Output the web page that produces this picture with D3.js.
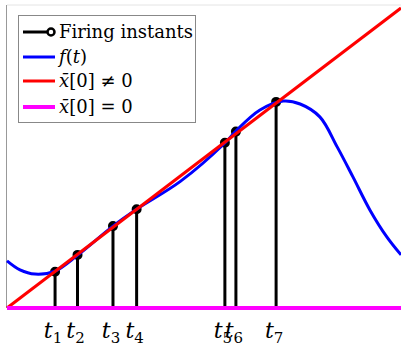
<!DOCTYPE html>
<html>
<head>
<meta charset="utf-8">
<script src="https://cdn.jsdelivr.net/npm/d3@7"></script>
<style>
  body { margin: 0; background: #fff; }
  svg { display: block; font-family: 'DejaVu Serif', 'Liberation Serif', serif; }
</style>
</head>
<body>
<div id="chart"></div>
<script>
// sampled f(t)
const fT = [0, 0.33, 0.71, 1.22, 1.8, 2.69, 3.3, 4.4, 5.53, 5.81, 6.42, 7.01, 7.44, 7.94, 8.38, 8.78, 9.21, 9.64, 10]
const fY = [1.57, 1.27, 1.13, 1.23, 1.77, 2.73, 3.3, 4.22, 5.5, 5.9, 6.6, 6.9, 6.8, 6.37, 5.37, 4.37, 3.27, 2.37, 1.77]
// firing instants
const fireT = [1.22, 1.79, 2.69, 3.29, 5.53, 5.81, 6.83]
const fireY = [1.21, 1.77, 2.73, 3.29, 5.51, 5.88, 6.87]
const fireLabels = ['1', '2', '3', '4', '5', '6', '7']
// red line x[0] != 0 (endpoints)
const redT = [0, 10]
const redY = [0, 10]

const w = 401, h = 347
const margin = { left: 7, right: 0, top: 5, bottom: 39 }

const svg = d3.select('#chart').append('svg')
  .attr('width', w).attr('height', h)

const x = d3.scaleLinear().domain([0, 10]).range([margin.left, w - margin.right])
const y = d3.scaleLinear().domain([0, 10.1]).range([h - margin.bottom, margin.top])

// frame
svg.append('line')
  .attr('x1', x(0)).attr('x2', w).attr('y1', y(10.1)).attr('y2', y(10.1))
  .attr('stroke', '#e4e4e4').attr('stroke-width', 1)
svg.append('line')
  .attr('x1', x(0) - 0.5).attr('x2', x(0) - 0.5).attr('y1', y(10.1)).attr('y2', y(0))
  .attr('stroke', '#999').attr('stroke-width', 1)

const plot = svg.append('g')
const fire = fireT.map((t, i) => ({ t, v: fireY[i], lab: fireLabels[i] }))

// stems
plot.selectAll('line.stem').data(fire).enter().append('line')
  .attr('class', 'stem')
  .attr('x1', d => x(d.t)).attr('x2', d => x(d.t))
  .attr('y1', y(0)).attr('y2', d => y(d.v))
  .attr('stroke', '#000').attr('stroke-width', 3)
plot.selectAll('circle.mk').data(fire).enter().append('circle')
  .attr('class', 'mk')
  .attr('cx', d => x(d.t)).attr('cy', d => y(d.v)).attr('r', 4)
  .attr('fill', '#000').attr('stroke', '#000').attr('stroke-width', 2)

// f(t)
const fData = fT.map((t, i) => [t, fY[i]])
plot.append('path')
  .attr('d', d3.line().x(d => x(d[0])).y(d => y(d[1])).curve(d3.curveCatmullRom)(fData))
  .attr('fill', 'none').attr('stroke', '#0000ff').attr('stroke-width', 3)

// red line
plot.append('path')
  .attr('d', d3.line().x(d => x(d[0])).y(d => y(d[1]))(redT.map((t, i) => [t, redY[i]])))
  .attr('fill', 'none').attr('stroke', '#ff0000').attr('stroke-width', 3)

// magenta baseline
plot.append('line')
  .attr('x1', x(0)).attr('x2', x(10)).attr('y1', y(0)).attr('y2', y(0))
  .attr('stroke', '#ff00ff').attr('stroke-width', 4)

// tick labels
const tl = svg.selectAll('text.tl').data(fire).enter().append('text')
  .attr('class', 'tl')
  .attr('x', d => x(d.t) - 2).attr('y', 338)
  .attr('text-anchor', 'middle')
  .style('font-size', '22px')
tl.append('tspan').text('t').style('font-style', 'italic')
tl.append('tspan').text(d => d.lab).attr('dy', 5).style('font-size', '15px')

// legend
const lg = svg.append('g').attr('transform', 'translate(18,15)')
lg.append('rect').attr('x', 0.5).attr('y', 0.5).attr('width', 177).attr('height', 107)
  .attr('fill', '#fff').attr('stroke', '#888').attr('stroke-width', 1)
const items = [
  { c: '#000', mk: true },
  { c: '#0000ff' },
  { c: '#ff0000' },
  { c: '#ff00ff' }
]
const rowY = [17, 42, 66, 92]
items.forEach((it, i) => {
  lg.append('line').attr('x1', 5).attr('x2', 37).attr('y1', rowY[i]).attr('y2', rowY[i])
    .attr('stroke', it.c).attr('stroke-width', i === 3 ? 4 : 3)
  if (it.mk) {
    lg.append('circle').attr('cx', 33).attr('cy', rowY[i]).attr('r', 3.5)
      .attr('fill', '#fff').attr('stroke', '#000').attr('stroke-width', 2.5)
  }
})
const ts = 'font-size:18px'
lg.append('text').attr('x', 41).attr('y', rowY[0] + 6).attr('style', ts).text('Firing instants')
const t1 = lg.append('text').attr('x', 41).attr('y', rowY[1] + 6).attr('style', ts)
t1.append('tspan').text('f').style('font-style', 'italic')
t1.append('tspan').text('(')
t1.append('tspan').text('t').style('font-style', 'italic')
t1.append('tspan').text(')')
const t2 = lg.append('text').attr('x', 41).attr('y', rowY[2] + 6).attr('style', ts)
t2.append('tspan').text('x\u0304').style('font-style', 'italic')
t2.append('tspan').text('[0] \u2260 0')
const t3 = lg.append('text').attr('x', 41).attr('y', rowY[3] + 6).attr('style', ts)
t3.append('tspan').text('x\u0304').style('font-style', 'italic')
t3.append('tspan').text('[0] = 0')
</script>
</body>
</html>
